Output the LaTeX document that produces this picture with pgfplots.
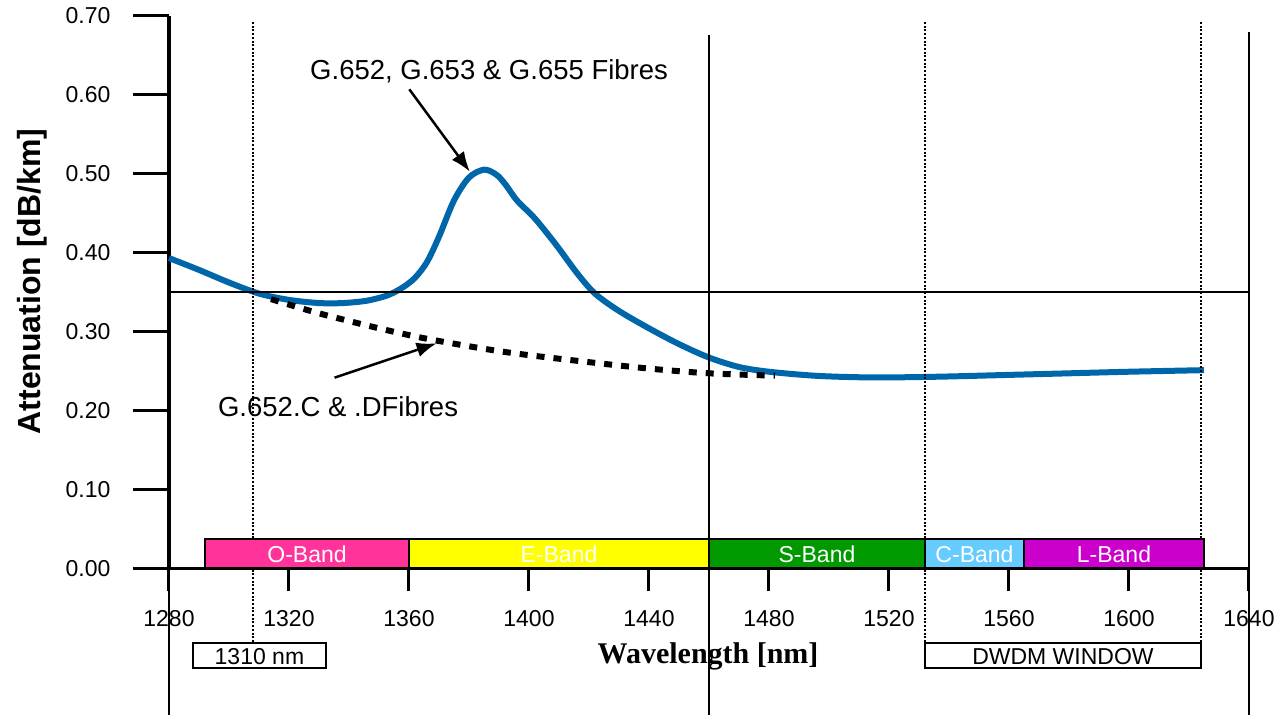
\documentclass[border=0pt]{standalone}
\usepackage{pgfplots}
\pgfplotsset{compat=1.18}
\usepackage{fontspec}
\setmainfont{Liberation Sans}
\newfontfamily\timesfont{Liberation Serif}
\usetikzlibrary{arrows.meta}
\definecolor{fib}{RGB}{0,102,170}
\definecolor{oband}{RGB}{255,51,153}
\definecolor{eband}{RGB}{255,255,0}
\definecolor{sband}{RGB}{0,153,0}
\definecolor{cband}{RGB}{102,204,255}
\definecolor{lband}{RGB}{204,0,204}
\newcommand{\tfont}{\fontsize{23}{27}\selectfont}
\newcommand{\afont}{\fontsize{27.5}{32}\selectfont}

\pgfplotstableread{
x y
1280 0.393
1290 0.378
1300 0.362
1310 0.348
1320 0.340
1330 0.336
1338 0.336
1346 0.339
1353 0.346
1358 0.356
1362 0.368
1366 0.388
1370 0.420
1375 0.466
1380 0.495
1385 0.505
1389 0.499
1392 0.487
1396 0.466
1402 0.443
1409 0.410
1416 0.374
1422 0.348
1430 0.326
1440 0.304
1450 0.284
1460 0.267
1470 0.255
1480 0.249
1495 0.244
1510 0.242
1525 0.242
1540 0.243
1560 0.245
1580 0.247
1600 0.249
1625 0.251
}\fibre

\pgfplotstableread{
x y
1314 0.341
1330 0.323
1350 0.304
1367 0.290
1392 0.274
1418 0.262
1440 0.253
1460 0.247
1482 0.244
}\lowwater

\begin{document}
\begin{tikzpicture}[x=1pt,y=1pt]
\path[use as bounding box] (0,0) rectangle (1280,715);
\begin{axis}[
  at={(169pt,146.7pt)}, anchor=south west,
  scale only axis, width=1080pt, height=552.6pt,
  xmin=1280, xmax=1640, ymin=0, ymax=0.70,
  axis x line=bottom, axis y line=left,
  axis line style={-, line width=3.5pt, black},
  clip=false,
  xtick={1280,1320,...,1640},
  ytick={0,0.1,0.2,0.3,0.4,0.5,0.6,0.7},
  tick align=outside,
  major tick length=23pt,
  xtick style={line width=3pt, black},
  ytick style={draw=none},
  /pgf/number format/assume math mode=true,
  /pgf/number format/1000 sep={},
  xticklabel style={font=\tfont, yshift=-16pt},
  yticklabel style={font=\tfont, xshift=-32pt, /pgf/number format/.cd, fixed, fixed zerofill, precision=2},
]
% blue curve
\addplot[fib, line width=6pt, smooth, tension=0.5, line cap=butt] table[x=x,y=y] {\fibre};
% dotted curve
\addplot[black, line width=6pt, smooth, dash pattern=on 8pt off 9pt] table[x=x,y=y] {\lowwater};

% y ticks
\pgfplotsinvokeforeach{0,0.1,0.2,0.3,0.4,0.5,0.6,0.7}{
  \draw[line width=3pt] (axis cs:1268,#1) -- (axis cs:1280,#1);
}
% reference lines
\draw[line width=2.5pt] (axis cs:1280,0.35) -- (axis cs:1640,0.35);
\draw[line width=2pt] (axis cs:1460,0.6755) -- (axis cs:1460,-0.1857);
\draw[line width=2pt] (axis cs:1640,0.679) -- (axis cs:1640,-0.1857);
\draw[line width=2pt] (axis cs:1280,0) -- (axis cs:1280,-0.1857);
% dotted verticals
\draw[line width=2pt, dash pattern=on 2pt off 1.7pt] (axis cs:1308,0.692) -- (axis cs:1308,-0.0945);
\draw[line width=2pt, dash pattern=on 2pt off 1.7pt] (axis cs:1532,0.692) -- (axis cs:1532,-0.0945);
\draw[line width=2pt, dash pattern=on 2pt off 1.7pt] (axis cs:1624,0.692) -- (axis cs:1624,-0.0945);

% bands
\draw[fill=oband, line width=2pt] (axis cs:1292,0) rectangle (axis cs:1360,0.0367);
\draw[fill=eband, line width=2pt] (axis cs:1360,0) rectangle (axis cs:1460,0.0367);
\draw[fill=sband, line width=2pt] (axis cs:1460,0) rectangle (axis cs:1532,0.0367);
\draw[fill=cband, line width=2pt] (axis cs:1532,0) rectangle (axis cs:1565,0.0367);
\draw[fill=lband, line width=2pt] (axis cs:1565,0) rectangle (axis cs:1625,0.0367);
\node[anchor=base, text=white, font=\tfont, inner sep=0] at (axis cs:1326,0.0071) {O-Band};
\node[anchor=base, text=white, font=\tfont, inner sep=0] at (axis cs:1410,0.0071) {E-Band};
\node[anchor=base, text=white, font=\tfont, inner sep=0] at (axis cs:1496,0.0071) {S-Band};
\node[anchor=base, text=white, font=\tfont, inner sep=0] at (axis cs:1548.5,0.0071) {C-Band};
\node[anchor=base, text=white, font=\tfont, inner sep=0] at (axis cs:1595,0.0071) {L-Band};

% boxes below axis
\draw[line width=2.5pt, fill=white] (axis cs:1288,-0.0945) rectangle (axis cs:1332.3,-0.1264);
\node[anchor=base, font=\tfont, inner sep=0] at (axis cs:1310.15,-0.1219) {1310 nm};
\draw[line width=2.5pt, fill=white] (axis cs:1532,-0.0945) rectangle (axis cs:1624,-0.1264);
\node[anchor=base, font=\tfont, inner sep=0] at (axis cs:1578,-0.1219) {DWDM WINDOW};

% axis titles
\node[anchor=base, font=\timesfont\bfseries\fontsize{30}{34}\selectfont, inner sep=0] at (axis cs:1459.7,-0.1203) {Wavelength [nm]};
\node[anchor=base, rotate=90, font=\bfseries\fontsize{32}{36}\selectfont, inner sep=0] at (axis cs:1237,0.3633) {Attenuation [dB/km]};

% annotations
\node[anchor=base, font=\afont, inner sep=0] at (axis cs:1386.7,0.6194) {G.652, G.653 \& G.655 Fibres};
\draw[line width=2.5pt, -{Latex[length=20pt,width=15pt]}] (axis cs:1360.1,0.6068) -- (axis cs:1380.3,0.5024);
\node[anchor=base west, font=\afont, inner sep=0] at (axis cs:1296.3,0.1929) {G.652.C \& .DFibres};
\draw[line width=2.5pt, -{Latex[length=20pt,width=15pt]}] (axis cs:1335.2,0.2415) -- (axis cs:1369.2,0.285);
\end{axis}
\end{tikzpicture}
\end{document}
